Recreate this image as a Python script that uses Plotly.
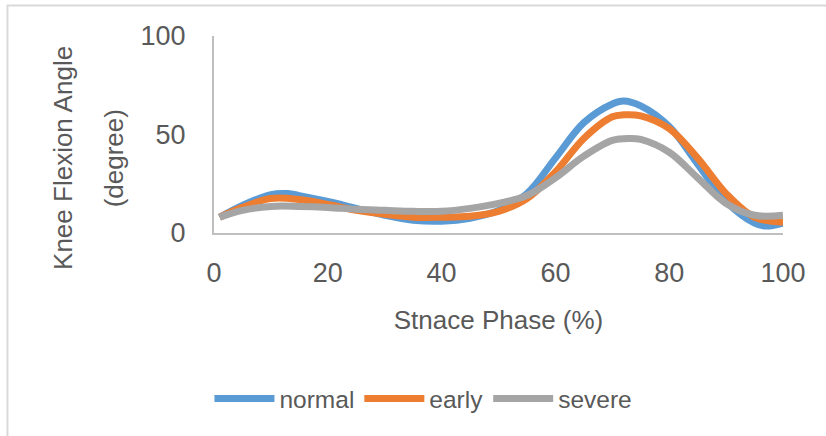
import plotly.graph_objects as go

# Stance phase (%) sample points
x_normal = [1, 5, 10, 13, 15, 20, 25, 30, 35, 40, 45, 50, 55, 60, 65, 70, 72, 75, 80, 85, 90, 95, 97, 100]
normal = [8, 14, 19.5, 20, 19, 16, 12.5, 9, 6.5, 6, 7.5, 11.5, 20, 38, 56, 65.5, 67, 64.5, 54, 35, 16, 5, 3.5, 5]

x_early = [1, 5, 10, 15, 20, 25, 30, 35, 40, 45, 50, 55, 60, 65, 70, 72, 75, 80, 85, 90, 95, 100]
early = [8, 13, 17.5, 17, 14.5, 11.5, 9.5, 8, 8, 8.5, 11, 17.5, 31, 48, 59, 60, 59.5, 53, 38, 20, 8, 5.5]

x_severe = [1, 5, 10, 15, 20, 25, 30, 35, 40, 45, 50, 55, 60, 65, 70, 73, 75, 80, 85, 90, 95, 100]
severe = [8, 11.5, 13.5, 13.5, 13, 12, 11.5, 11, 11, 12.5, 15, 19, 28, 39, 47, 48, 47.5, 41, 28, 15, 9, 9]

x_ticks = [0, 20, 40, 60, 80, 100]
y_ticks = [0, 50, 100]

FONT = "Liberation Sans, Arial, sans-serif"
TXT = "#595959"

fig = go.Figure()
for name, xs, ys, col in [("normal", x_normal, normal, "#5B9BD5"),
                          ("early", x_early, early, "#ED7D31"),
                          ("severe", x_severe, severe, "#A5A5A5")]:
    fig.add_trace(go.Scatter(x=xs, y=ys, name=name, mode="lines",
                             line=dict(color=col, width=7, shape="spline", smoothing=1.0)))

fig.update_layout(
    width=826, height=436,
    margin=dict(l=214, r=43, t=36, b=203),
    paper_bgcolor="white", plot_bgcolor="white",
    font=dict(family=FONT, color=TXT, size=26),
    showlegend=True,
    legend=dict(orientation="h", x=-0.008, xanchor="left", y=-0.84, yanchor="middle",
                font=dict(size=24.5, color=TXT), itemwidth=60, traceorder="normal"),
    xaxis=dict(range=[0, 100], tickvals=x_ticks, showgrid=False, zeroline=False,
               showline=True, linecolor="#BFBFBF", linewidth=2, ticks="",
               tickfont=dict(size=27, color=TXT), ticklabelstandoff=15,
               title=dict(text="Stnace Phase (%)", font=dict(size=26, color=TXT), standoff=23)),
    yaxis=dict(range=[0, 100], tickvals=y_ticks, showgrid=False, zeroline=False,
               showline=True, linecolor="#BFBFBF", linewidth=2, ticks="",
               tickfont=dict(size=27, color=TXT), ticklabelstandoff=21),
    shapes=[dict(type="rect", xref="paper", yref="paper", x0=-0.363, x1=2, y0=-2, y1=1.155,
                 line=dict(color="#D9D9D9", width=2), fillcolor="rgba(0,0,0,0)", layer="below")],
    annotations=[
        dict(text="Knee Flexion Angle", xref="paper", yref="paper", x=-0.2654, y=0.381,
             xanchor="center", yanchor="middle",
             textangle=-90, showarrow=False, font=dict(size=26, color=TXT)),
        dict(text="(degree)", xref="paper", yref="paper", x=-0.175, y=0.381,
             xanchor="center", yanchor="middle",
             textangle=-90, showarrow=False, font=dict(size=26, color=TXT)),
    ],
)

fig.write_html("out.html")
